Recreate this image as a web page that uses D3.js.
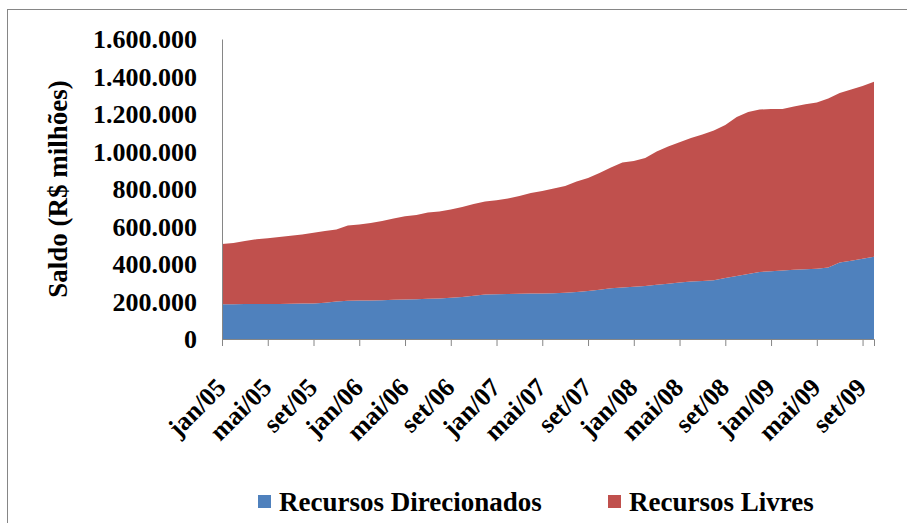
<!DOCTYPE html>
<html>
<head>
<meta charset="utf-8">
<script src="https://cdn.jsdelivr.net/npm/d3@7"></script>
<style>
	body { margin: 0; background: #fff; }
	svg text { font-family: "Liberation Serif", "Times New Roman", serif; font-weight: bold; fill: #000; }
	.axis path, .axis line { stroke: #868686; }
</style>
</head>
<body>
<div id="chart"></div>
<script>
var w = 907, h = 523;

// Meses (jan/05 - out/09)
var meses = [
	"jan/05","fev/05","mar/05","abr/05","mai/05","jun/05","jul/05","ago/05","set/05","out/05","nov/05","dez/05",
	"jan/06","fev/06","mar/06","abr/06","mai/06","jun/06","jul/06","ago/06","set/06","out/06","nov/06","dez/06",
	"jan/07","fev/07","mar/07","abr/07","mai/07","jun/07","jul/07","ago/07","set/07","out/07","nov/07","dez/07",
	"jan/08","fev/08","mar/08","abr/08","mai/08","jun/08","jul/08","ago/08","set/08","out/08","nov/08","dez/08",
	"jan/09","fev/09","mar/09","abr/09","mai/09","jun/09","jul/09","ago/09","set/09","out/09"
];

// Saldo, R$ milhoes
var direcionados = [
	185000,185600,186100,186700,186700,187200,187700,188800,189900,193100,200000,203700,
	205300,205900,206900,209100,210700,212300,214400,216500,219700,224000,230400,236800,
	238900,240000,241100,242100,243200,244300,246400,250700,256000,262400,270400,274100,
	278400,282700,289100,294400,301300,306700,309300,313600,325300,336000,346700,357300,
	361100,365300,369100,371700,374900,381300,408000,417600,427700,438900
];

var livres = [
	322000,326400,336600,345000,350300,356800,362700,368500,377000,382900,384000,401600,
	405400,412800,422400,433600,444200,449000,460300,463500,471000,480000,489600,496500,
	500800,509300,521600,536600,546100,558400,569600,589300,602700,622900,644300,667200,
	670900,682600,710900,732300,748300,765300,781400,798400,816000,848000,864000,866700,
	865600,861400,870900,880000,886400,901400,904000,913100,921600,933400
];

var yTicks = [0,200000,400000,600000,800000,1000000,1200000,1400000,1600000];

var series = [
	{ key: "direcionados", label: "Recursos Direcionados", color: "#4F81BD" },
	{ key: "livres", label: "Recursos Livres", color: "#C0504D" }
];

var table = meses.map(function(m, i) {
	return { mes: m, direcionados: direcionados[i], livres: livres[i] };
});

var svg = d3.select("#chart").append("svg:svg")
	.attr("width", w)
	.attr("height", h);

// Frame
svg.append("rect")
	.attr("x", 7.5)
	.attr("y", 9.5)
	.attr("width", w)
	.attr("height", h)
	.attr("fill", "none")
	.attr("stroke", "#868686");

// Scales
var x = d3.scalePoint()
	.domain(meses)
	.range([222, 874]);

var y = d3.scaleLinear()
	.domain([0, 1600000])
	.range([339, 39]);

var br = d3.formatLocale({ decimal: ",", thousands: ".", grouping: [3], currency: ["R$", ""] });

// Areas
var stack = d3.stack().keys(series.map(function(s) { return s.key; }));
var layers = stack(table);

var area = d3.area()
	.x(function(d) { return x(d.data.mes); })
	.y0(function(d) { return y(d[0]); })
	.y1(function(d) { return y(d[1]); });

svg.append("g")
	.selectAll("path")
	.data(layers)
	.enter()
	.append("path")
		.attr("d", area)
		.attr("fill", function(d, i) { return series[i].color; });

// Y axis
var yAxis = svg.append("g")
	.attr("class", "axis")
	.attr("transform", "translate(222,0)")
	.call(d3.axisLeft(y).tickValues(yTicks).tickSize(0).tickPadding(25).tickFormat(br.format(",d")));
yAxis.selectAll("text")
	.attr("font-size", 26)
	.attr("dy", "0.34em");

// X axis
var xAxis = svg.append("g")
	.attr("class", "axis")
	.attr("transform", "translate(0,339)")
	.call(d3.axisBottom(x).tickValues(meses.filter(function(m, i) { return i % 4 == 0; })).tickSizeOuter(0).tickSize(7));
xAxis.selectAll("text")
	.attr("font-size", 26)
	.attr("text-anchor", "end")
	.attr("y", 0)
	.attr("dy", 0)
	.attr("transform", "translate(5,50) rotate(-45)");

// Axis title
svg.append("text")
	.attr("transform", "translate(67,189) rotate(-90)")
	.attr("text-anchor", "middle")
	.attr("font-size", 27)
	.text("Saldo (R$ milhões)");

// Legend
var legendX = [258, 608];
var legend = svg.append("g")
	.selectAll("g")
	.data(series)
	.enter()
	.append("g")
		.attr("transform", function(d, i) { return "translate(" + legendX[i] + ",495)"; });
legend.append("rect")
	.attr("width", 13)
	.attr("height", 13)
	.attr("fill", function(d) { return d.color; });
legend.append("text")
	.attr("x", 21)
	.attr("y", 16)
	.attr("font-size", 27)
	.text(function(d) { return d.label; });
</script>
</body>
</html>
